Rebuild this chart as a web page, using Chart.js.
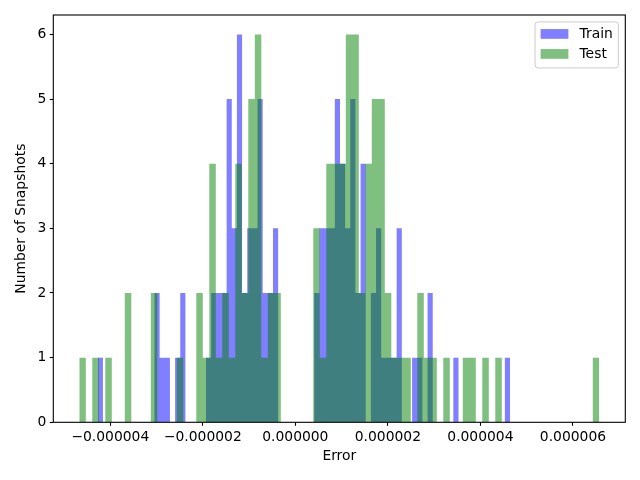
<!DOCTYPE html>
<html>
<head>
<meta charset="utf-8">
<script src="https://cdn.jsdelivr.net/npm/chart.js@4.4.1/dist/chart.umd.min.js"></script>
<style>
html,body{margin:0;padding:0;background:#ffffff;}
#wrap{width:640px;height:480px;position:relative;}
</style>
</head>
<body>
<div id="wrap"><canvas id="c" width="640" height="480"></canvas></div>
<script>
// ---- data ----
const seriesNames = ['Train', 'Test'];
const trainRange = [-4.27e-6, 4.64e-6];   // histogram range of Train errors (80 bins)
const testRange  = [-4.67e-6, 6.57e-6];   // histogram range of Test errors (80 bins)
const trainCounts = [
  1,0,0,0,0,0,0,0,0,0,
  0,2,1,1,0,1,2,0,0,0,
  0,1,2,2,2,5,3,6,2,3,
  3,5,2,2,3,0,0,0,0,0,
  0,0,2,3,3,3,5,4,3,5,
  2,4,0,2,3,1,1,1,3,0,
  0,1,1,0,2,0,0,0,0,1,
  0,0,0,0,0,0,0,0,0,1
];
const testCounts = [
  1,0,1,0,1,0,0,2,0,0,
  0,2,0,0,0,1,0,0,2,1,
  4,1,2,1,4,2,5,6,1,2,
  2,0,0,0,0,0,3,1,4,4,
  4,6,6,2,4,5,5,2,1,1,
  1,0,2,1,1,0,1,0,0,1,
  1,0,1,0,1,0,0,0,0,0,
  0,0,0,0,0,0,0,0,0,1
];
const xTickValues = [-4e-6, -2e-6, 0, 2e-6, 4e-6, 6e-6];
const xTickLabels = ['\u22120.000004', '\u22120.000002', '0.000000', '0.000002', '0.000004', '0.000006'];
const yTickValues = [0, 1, 2, 3, 4, 5, 6];
const yTickLabels = ['0', '1', '2', '3', '4', '5', '6'];
const xTitle = 'Error';
const yTitle = 'Number of Snapshots';

// ---- build chart input: each histogram as a filled step outline over its bin edges ----
function stepPoints(range, counts) {
  const n = counts.length;
  const w = (range[1] - range[0]) / n;
  const pts = [];
  for (let i = 0; i <= n; i++) {
    pts.push({x: range[0] + i * w, y: counts[Math.min(i, n - 1)]});
  }
  return pts;
}
const trainData = stepPoints(trainRange, trainCounts);
const testData = stepPoints(testRange, testCounts);

const dMin = Math.min(trainRange[0], testRange[0]);
const dMax = Math.max(trainRange[1], testRange[1]);
const mPad = 0.05 * (dMax - dMin);
const xLim = [dMin - mPad, dMax + mPad];
const yLim = [0, Math.max(...trainCounts, ...testCounts) * 1.05];

const FS = 13.89;
const FONT = {family: 'DejaVu Sans', size: FS};
Chart.defaults.font.family = 'DejaVu Sans';
Chart.defaults.font.size = FS;
Chart.defaults.color = '#000000';

function labelFor(values, labels, v) {
  for (let k = 0; k < values.length; k++) {
    if (Math.abs(values[k] - v) < 1e-12) return labels[k];
  }
  return '';
}

const framePlugin = {
  id: 'frame',
  afterDatasetsDraw(chart) {
    const {ctx, chartArea: a} = chart;
    ctx.save();
    ctx.strokeStyle = '#000000';
    ctx.lineWidth = 1.1;
    ctx.strokeRect(a.left, a.top, a.right - a.left, a.bottom - a.top);
    ctx.restore();
  }
};

const legendPlugin = {
  id: 'innerLegend',
  afterDraw(chart) {
    const {ctx, chartArea: a} = chart;
    const ds = chart.data.datasets;
    ctx.save();
    ctx.font = FS + 'px "DejaVu Sans"';
    const pad = 0.4 * FS, hl = 2.0 * FS, htp = 0.8 * FS, gap = 0.5 * FS;
    let tw = 0;
    ds.forEach(d => { tw = Math.max(tw, ctx.measureText(d.label).width); });
    const w = pad * 2 + hl + htp + tw;
    const rowStep = 20;
    const h = 46;
    const x0 = a.right - gap - w;
    const y0 = a.top + gap;
    const r = 2.8;
    ctx.beginPath();
    ctx.moveTo(x0 + r, y0);
    ctx.lineTo(x0 + w - r, y0);
    ctx.quadraticCurveTo(x0 + w, y0, x0 + w, y0 + r);
    ctx.lineTo(x0 + w, y0 + h - r);
    ctx.quadraticCurveTo(x0 + w, y0 + h, x0 + w - r, y0 + h);
    ctx.lineTo(x0 + r, y0 + h);
    ctx.quadraticCurveTo(x0, y0 + h, x0, y0 + h - r);
    ctx.lineTo(x0, y0 + r);
    ctx.quadraticCurveTo(x0, y0, x0 + r, y0);
    ctx.closePath();
    ctx.fillStyle = 'rgba(255,255,255,0.8)';
    ctx.fill();
    ctx.strokeStyle = '#cccccc';
    ctx.lineWidth = 1;
    ctx.stroke();
    ds.forEach((d, i) => {
      const cy = y0 + 12 + i * rowStep;
      ctx.fillStyle = d.backgroundColor;
      ctx.fillRect(x0 + pad, cy - 0.35 * FS, hl, 0.7 * FS);
      ctx.fillStyle = '#000000';
      ctx.textBaseline = 'middle';
      ctx.textAlign = 'left';
      ctx.fillText(d.label, x0 + pad + hl + htp, cy);
    });
    ctx.restore();
  }
};

new Chart(document.getElementById('c'), {
  type: 'line',
  data: {
    datasets: [
      {
        label: seriesNames[0], data: trainData,
        backgroundColor: 'rgba(0,0,255,0.5)', borderColor: 'rgba(0,0,0,0)', borderWidth: 0,
        stepped: 'before', fill: 'origin', pointRadius: 0, pointHoverRadius: 0, order: 1
      },
      {
        label: seriesNames[1], data: testData,
        backgroundColor: 'rgba(0,128,0,0.5)', borderColor: 'rgba(0,0,0,0)', borderWidth: 0,
        stepped: 'before', fill: 'origin', pointRadius: 0, pointHoverRadius: 0, order: 0
      }
    ]
  },
  options: {
    responsive: true,
    maintainAspectRatio: false,
    animation: false,
    devicePixelRatio: 1,
    layout: {padding: {left: 0, right: 14.7, top: 15, bottom: 0}},
    plugins: {legend: {display: false}, tooltip: {enabled: false}},
    scales: {
      x: {
        type: 'linear', position: 'bottom', min: xLim[0], max: xLim[1], offset: false,
        afterBuildTicks: s => { s.ticks = xTickValues.map(v => ({value: v})); },
        afterFit: s => { s.height = 57.7; },
        ticks: {
          autoSkip: false, maxRotation: 0, minRotation: 0, padding: 3.5, color: '#000000', font: FONT,
          callback: v => labelFor(xTickValues, xTickLabels, v)
        },
        grid: {display: true, offset: false, drawOnChartArea: false, drawTicks: true, tickLength: 3.5, color: '#000000', tickColor: '#000000', tickWidth: 1.1},
        border: {display: false},
        title: {display: true, text: xTitle, color: '#000000', font: FONT, padding: {top: 0, bottom: 15.2}}
      },
      y: {
        type: 'linear', position: 'left', min: yLim[0], max: yLim[1],
        afterBuildTicks: s => { s.ticks = yTickValues.map(v => ({value: v})); },
        afterFit: s => { s.width = 53.3; },
        ticks: {
          autoSkip: false, padding: 3.5, color: '#000000', font: FONT,
          callback: v => labelFor(yTickValues, yTickLabels, v)
        },
        grid: {display: true, offset: false, drawOnChartArea: false, drawTicks: true, tickLength: 3.5, color: '#000000', tickColor: '#000000', tickWidth: 1.1},
        border: {display: false},
        title: {display: true, text: yTitle, color: '#000000', font: FONT, padding: {top: 12.6, bottom: 0}}
      }
    }
  },
  plugins: [framePlugin, legendPlugin]
});
</script>
</body>
</html>
